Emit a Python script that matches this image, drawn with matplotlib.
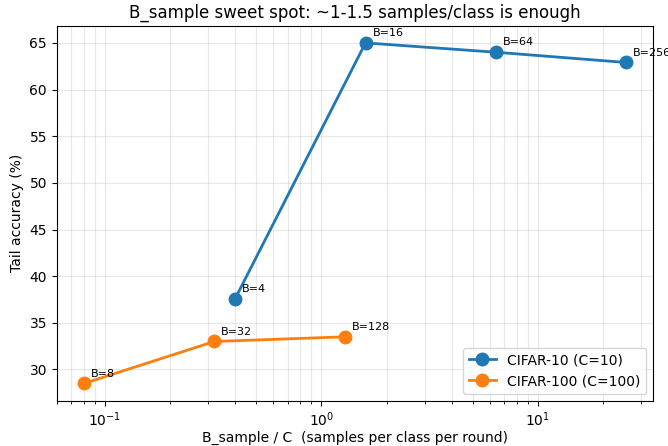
import numpy as np
import matplotlib.pyplot as plt

# batch sizes per dataset
b10 = [4, 16, 64, 256]
acc10 = [37.6, 65.0, 64.0, 62.9]
b100 = [8, 32, 128]
acc100 = [28.5, 33.0, 33.5]


fig, ax = plt.subplots(figsize=(6.68, 4.46), dpi=100)

for bs, acc, C, lab in [(b10, acc10, 10, 'CIFAR-10 (C=10)'),
                        (b100, acc100, 100, 'CIFAR-100 (C=100)')]:
    x = np.array(bs) / C
    ax.plot(x, acc, 'o-', linewidth=2, markersize=9, label=lab)
    for xi, yi, b in zip(x, acc, bs):
        ax.annotate('B=%d' % b, (xi, yi), textcoords='offset points',
                    xytext=(5, 5), fontsize=8)

ax.set_xscale('log')
ax.set_xlabel('B_sample / C  (samples per class per round)', labelpad=1.5)
ax.set_ylabel('Tail accuracy (%)')
ax.set_title('B_sample sweet spot: ~1-1.5 samples/class is enough')
ax.grid(True, which='both', alpha=0.3)
ax.legend(loc='lower right')
fig.subplots_adjust(left=0.085, right=0.978, top=0.942, bottom=0.102)
fig.savefig('out.png')
